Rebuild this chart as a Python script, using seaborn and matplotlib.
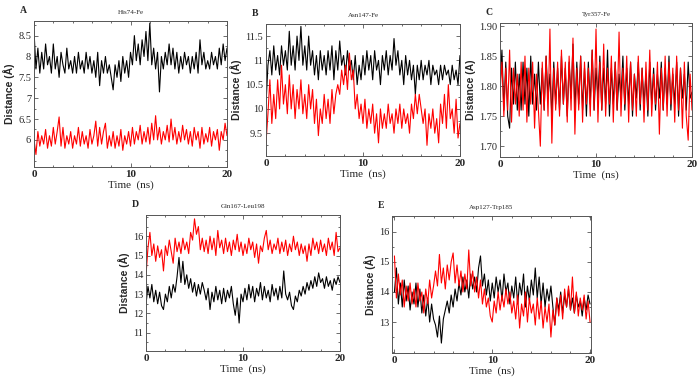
import matplotlib
matplotlib.use("Agg")
import matplotlib.pyplot as plt
import seaborn as sns
import numpy as np
from matplotlib.ticker import MultipleLocator

# time axis, ns (sampled every 0.2 ns)
time_ns = np.linspace(0, 20, 101)

# A: His74-Fe
a_black = [8.6, 7.7, 8.2, 7.6, 8.1, 7.7, 8.3, 7.8, 8.0, 7.6, 8.3,
           7.7, 8.0, 7.5, 8.1, 7.8, 7.6, 8.2, 7.7, 7.9, 7.6,
           8.0, 7.6, 8.1, 7.7, 7.9, 7.6, 8.1, 7.7, 8.0, 7.6,
           7.9, 7.5, 8.1, 7.3, 7.9, 7.6, 8.0, 7.6, 7.8, 7.5,
           7.2, 7.8, 7.5, 7.9, 7.4, 8.0, 7.6, 7.9, 7.5, 8.1,
           7.8, 8.5, 7.9, 8.3, 7.8, 8.4, 8.0, 8.6, 7.9, 8.8,
           7.8, 8.2, 7.7, 8.1, 7.15, 8.0, 7.7, 8.1, 7.8, 8.3,
           7.8, 8.2, 7.7, 8.1, 7.6, 8.0, 7.7, 8.1, 7.8, 8.0,
           7.6, 8.0, 7.7, 8.1, 7.6, 8.4, 7.8, 8.1, 7.7, 7.9,
           7.7, 8.1, 7.8, 8.0, 7.7, 8.2, 7.8, 8.3, 7.9, 8.2]
a_red = [6.0, 5.65, 6.2, 5.85, 6.1, 5.9, 6.25, 5.8, 6.1, 5.85, 6.3,
         5.9, 6.2, 6.55, 5.85, 6.3, 5.8, 6.1, 5.9, 6.2, 5.8,
         6.1, 5.9, 6.3, 5.85, 6.2, 5.9, 6.1, 5.8, 6.25, 5.9,
         6.1, 6.45, 5.85, 6.3, 5.9, 6.2, 6.4, 5.8, 6.1, 5.85,
         6.2, 5.8, 6.1, 5.85, 6.25, 5.75, 6.1, 5.9, 6.2, 5.85,
         6.3, 5.9, 6.2, 6.0, 6.35, 5.9, 6.2, 5.95, 6.3, 5.9,
         6.4, 6.0, 6.58, 6.0, 6.3, 5.9, 6.2, 6.0, 6.35, 5.95,
         6.5, 6.0, 6.3, 5.9, 6.2, 5.95, 6.35, 6.0, 6.25, 5.9,
         6.2, 5.85, 6.3, 6.0, 6.2, 5.8, 6.3, 5.9, 6.15, 5.95,
         6.3, 5.85, 6.2, 6.0, 6.25, 5.75, 6.2, 6.0, 6.4, 6.1]

# B: Asn147-Fe
b_black = [10.1, 10.9, 11.2, 10.7, 11.3, 10.8, 11.1, 10.7, 11.3, 10.9, 11.2,
           10.8, 11.6, 10.9, 11.3, 10.8, 11.5, 11.0, 11.7, 10.9, 11.3,
           10.8, 11.5, 10.9, 11.2, 10.7, 11.1, 10.6, 11.2, 10.8, 11.1,
           10.7, 11.2, 10.8, 11.3, 10.6, 11.2, 10.8, 11.4, 10.9, 11.1,
           10.7, 11.2, 10.8, 11.0, 10.6, 11.1, 10.5, 10.9, 10.6, 11.1,
           10.7, 11.2, 10.8, 11.1, 10.6, 11.2, 10.8, 11.0, 10.5, 11.1,
           10.8, 11.2, 10.7, 11.1, 10.8, 11.45, 10.9, 11.2, 10.7, 11.0,
           10.5, 11.1, 10.7, 11.0, 10.6, 10.9, 10.3, 10.9, 10.6, 11.0,
           10.6, 10.9, 10.7, 11.0, 10.5, 10.9, 10.7, 10.8, 10.5, 10.9,
           10.6, 10.9, 10.7, 10.8, 10.5, 10.9, 10.6, 10.8, 10.5, 11.1]
b_red = [9.3, 9.9, 10.6, 9.7, 10.3, 9.8, 10.6, 10.0, 10.9, 10.1, 10.5,
         9.9, 10.7, 10.0, 10.5, 9.8, 10.4, 10.0, 10.6, 9.9, 10.3,
         9.8, 10.5, 10.0, 10.4, 9.7, 10.2, 9.45, 10.0, 9.7, 10.3,
         9.8, 10.2, 9.7, 10.4, 9.9, 10.3, 10.5, 10.3, 10.8, 10.5,
         10.9, 10.4, 11.15, 10.6, 10.8, 10.0, 10.3, 9.8, 10.1, 9.7,
         10.2, 9.6, 10.0, 9.7, 10.1, 9.5, 9.9, 9.3, 10.0, 9.6,
         9.9, 9.6, 10.1, 9.7, 9.9, 9.5, 10.0, 9.7, 10.1, 9.6,
         10.0, 9.7, 9.9, 9.5, 10.1, 9.8, 10.3, 9.9, 10.3, 10.0,
         9.7, 10.0, 9.25, 9.9, 9.6, 10.0, 9.5, 9.8, 9.3, 10.1,
         9.7, 10.3, 9.6, 10.5, 9.8, 10.0, 9.5, 10.2, 9.4, 9.7]

# C: Tyr357-Fe
c_black = [1.80, 1.86, 1.76, 1.84, 1.75, 1.73, 1.83, 1.77, 1.84, 1.76, 1.82,
           1.76, 1.84, 1.77, 1.83, 1.75, 1.85, 1.77, 1.82, 1.76, 1.84,
           1.77, 1.83, 1.76, 1.85, 1.78, 1.82, 1.75, 1.84, 1.77, 1.83,
           1.76, 1.85, 1.77, 1.83, 1.75, 1.84, 1.78, 1.87, 1.76, 1.84,
           1.77, 1.85, 1.76, 1.83, 1.75, 1.84, 1.77, 1.86, 1.76, 1.83,
           1.78, 1.85, 1.76, 1.83, 1.77, 1.86, 1.75, 1.83, 1.77, 1.84,
           1.76, 1.82, 1.78, 1.85, 1.76, 1.83, 1.77, 1.84, 1.75, 1.82,
           1.78, 1.84, 1.76, 1.83, 1.77, 1.82, 1.75, 1.84, 1.77, 1.83,
           1.76, 1.82, 1.78, 1.84, 1.76, 1.83, 1.77, 1.85, 1.76, 1.82,
           1.77, 1.84, 1.75, 1.83, 1.78, 1.82, 1.76, 1.84, 1.78, 1.79]
c_red = [1.79, 1.84, 1.75, 1.83, 1.76, 1.86, 1.74, 1.83, 1.77, 1.82, 1.75,
         1.84, 1.76, 1.85, 1.74, 1.83, 1.77, 1.84, 1.73, 1.82, 1.76,
         1.70, 1.84, 1.76, 1.85, 1.75, 1.895, 1.705, 1.83, 1.76, 1.84,
         1.75, 1.86, 1.77, 1.84, 1.74, 1.85, 1.76, 1.88, 1.72, 1.83,
         1.76, 1.85, 1.74, 1.84, 1.77, 1.83, 1.75, 1.86, 1.76, 1.895,
         1.74, 1.84, 1.76, 1.87, 1.75, 1.83, 1.77, 1.85, 1.74, 1.84,
         1.76, 1.89, 1.75, 1.83, 1.77, 1.85, 1.74, 1.84, 1.76, 1.82,
         1.75, 1.85, 1.77, 1.83, 1.74, 1.84, 1.76, 1.86, 1.75, 1.82,
         1.77, 1.84, 1.72, 1.83, 1.76, 1.85, 1.75, 1.84, 1.77, 1.83,
         1.74, 1.85, 1.76, 1.83, 1.73, 1.84, 1.75, 1.71, 1.82, 1.76]

# D: Gln167-Leu198
d_black = [12.5, 13.4, 12.8, 13.5, 12.6, 13.2, 12.5, 13.1, 12.4, 12.2, 13.0,
           12.6, 13.4, 12.8, 13.5, 13.1, 13.9, 14.9, 13.6, 14.7, 13.5,
           14.0, 13.3, 13.8, 13.1, 13.6, 12.9, 13.5, 13.0, 13.6, 13.2,
           12.7, 13.3, 12.2, 13.1, 12.6, 13.4, 12.7, 13.2, 12.5, 13.3,
           12.6, 13.2, 12.8, 13.4, 12.5, 11.9, 12.8, 11.5, 13.0, 12.6,
           13.3, 12.7, 13.5, 12.8, 13.4, 12.6, 13.3, 12.9, 13.6, 12.7,
           13.4, 12.8, 13.2, 12.6, 13.5, 12.9, 13.3, 12.7, 13.4, 12.8,
           14.2, 13.0, 12.7, 13.1, 12.4, 12.2, 12.9, 12.6, 13.2, 12.9,
           13.4, 13.0, 13.6, 13.2, 13.7, 13.3, 13.9, 13.4, 14.1, 13.6,
           13.8, 13.3, 13.9, 13.4, 13.7, 13.2, 13.8, 13.5, 13.9, 13.6]
d_red = [14.0, 15.4, 16.2, 15.0, 15.6, 14.7, 15.5, 14.9, 15.3, 14.2, 15.5,
         15.0, 15.8, 15.2, 14.6, 15.9, 15.2, 15.7, 15.1, 15.9, 15.3,
         15.7, 15.1, 16.2, 15.8, 16.9, 16.1, 16.5, 15.3, 15.9, 15.2,
         15.8, 15.1, 16.0, 15.3, 15.9, 15.0, 16.3, 15.4, 15.8, 15.1,
         15.9, 15.2, 15.7, 15.0, 15.8, 15.3, 16.1, 15.2, 15.7, 15.0,
         15.6, 15.1, 15.9, 15.3, 15.7, 14.9, 15.6, 14.6, 15.5, 15.2,
         15.9, 16.3, 15.3, 15.8, 15.1, 15.6, 15.3, 15.9, 15.1, 15.7,
         15.2, 15.8, 15.0, 15.6, 15.2, 16.0, 15.3, 15.7, 15.0, 15.6,
         15.1, 15.5, 14.7, 15.6, 15.0, 15.9, 15.3, 15.7, 15.1, 15.8,
         15.2, 15.6, 15.0, 15.9, 15.3, 15.7, 15.0, 16.2, 15.2, 15.4]

# E: Asp127-Trp185
e_black = [14.0, 14.8, 13.6, 14.3, 13.5, 14.4, 13.7, 14.2, 13.4, 14.0, 13.6,
           14.3, 13.5, 14.1, 13.3, 13.9, 13.2, 13.8, 13.0, 13.6, 13.1,
           12.9, 12.5, 13.2, 12.3, 13.1, 13.4, 13.7, 13.3, 13.9, 13.5,
           14.1, 13.7, 14.3, 13.9, 14.5, 14.0, 14.4, 13.8, 14.6, 14.1,
           14.5, 14.0, 14.8, 15.2, 14.2, 14.6, 13.9, 14.4, 13.7, 14.3,
           13.8, 14.5, 14.0, 14.4, 13.7, 14.6, 14.0, 14.3, 13.6, 14.2,
           13.8, 14.5, 13.6, 14.3, 13.9, 14.6, 13.5, 14.2, 13.7, 14.4,
           13.9, 14.8, 13.8, 14.5, 13.6, 14.3, 13.5, 14.1, 13.7, 14.2,
           13.5, 12.9, 13.8, 13.4, 14.0, 13.3, 13.9, 13.5, 14.1, 13.4,
           13.8, 13.3, 13.9, 13.5, 13.7, 13.2, 13.8, 13.4, 13.9, 13.6]
e_red = [15.2, 13.8, 14.6, 13.9, 14.4, 13.5, 14.2, 13.7, 14.3, 13.6, 14.1,
         13.5, 14.3, 13.7, 14.0, 13.3, 14.1, 13.6, 14.4, 13.8, 14.2,
         14.7, 14.2, 15.25, 14.3, 14.8, 14.1, 14.9, 14.4, 15.0, 15.3,
         14.3, 14.9, 14.2, 14.7, 14.0, 14.6, 14.1, 15.4, 14.2, 14.7,
         14.0, 14.5, 13.8, 14.4, 13.6, 14.1, 13.5, 13.8, 13.2, 13.0,
         13.7, 13.3, 14.0, 13.4, 13.9, 13.5, 14.1, 13.6, 14.0, 13.3,
         13.7, 13.1, 13.9, 12.8, 13.6, 13.2, 14.0, 13.0, 13.8, 13.3,
         13.6, 12.9, 13.8, 13.1, 13.7, 12.8, 13.5, 13.0, 13.6, 12.5,
         13.4, 12.9, 13.8, 13.2, 13.9, 13.1, 14.1, 13.5, 14.2, 13.4,
         14.5, 13.3, 14.0, 13.2, 13.8, 13.4, 13.9, 13.1, 13.7, 13.0]

titles = ["His74-Fe", "Asn147-Fe", "Tyr357-Fe", "Gln167-Leu198", "Asp127-Trp185"]
letters = ["A", "B", "C", "D", "E"]
x_ticks = [0, 10, 20]
y_ticks = [[6, 6.5, 7, 7.5, 8, 8.5],
           [9.5, 10, 10.5, 11, 11.5],
           [1.70, 1.75, 1.80, 1.85, 1.90],
           [11, 12, 13, 14, 15, 16],
           [13, 14, 15, 16]]
y_fmt = ["%g", "%g", "%.2f", "%g", "%g"]
y_minor = [0.25, 0.25, 0.025, 0.5, 0.5]
y_lims = [(5.35, 8.85), (9.03, 11.75), (1.682, 1.905), (10.05, 17.1), (11.97, 16.53)]
x_lims = [(0, 20), (0, 20), (0, 20), (0, 20), (-0.25, 20.1)]
ylabels = ["Distance (Å)", "Distance (Å)", "Distance (A)", "Distance (Å)", "Distance (Å)"]

series = [(a_black, a_red), (b_black, b_red), (c_black, c_red),
          (d_black, d_red), (e_black, e_red)]

# axes boxes in figure fractions [left, bottom, width, height]
boxes = [[0.0486, 0.5605, 0.2757, 0.3842],
         [0.3800, 0.5895, 0.2771, 0.3474],
         [0.7143, 0.5868, 0.2743, 0.3526],
         [0.2086, 0.0763, 0.2771, 0.3579],
         [0.5600, 0.0711, 0.2843, 0.3605]]

sns.set_style("ticks")
serif = ["Liberation Serif", "DejaVu Serif"]

fig = plt.figure(figsize=(7, 3.8), dpi=100)
for i, box in enumerate(boxes):
    ax = fig.add_axes(box)
    blk, red = series[i]
    sns.lineplot(x=time_ns, y=blk, color="black", lw=0.8, ax=ax)
    sns.lineplot(x=time_ns, y=red, color="#ff0000", lw=0.8, ax=ax)
    ax.set_xlim(*x_lims[i])
    ax.set_ylim(*y_lims[i])
    ax.set_xticks(x_ticks)
    ax.set_xticklabels([str(t) for t in x_ticks], family=serif, fontsize=8, fontweight="bold")
    ax.set_yticks(y_ticks[i])
    ax.set_yticklabels([y_fmt[i] % v for v in y_ticks[i]], family=serif, fontsize=7.5)
    ax.xaxis.set_minor_locator(MultipleLocator(2))
    ax.yaxis.set_minor_locator(MultipleLocator(y_minor[i]))
    ax.tick_params(which="both", direction="in", top=True, right=True, width=0.6, color="#555555")
    ax.tick_params(which="major", length=3, pad=2)
    ax.tick_params(which="minor", length=1.5)
    for s in ax.spines.values():
        s.set_linewidth(0.7)
        s.set_color("#555555")
    ax.set_xlabel("Time  (ns)", family=serif, fontsize=8, labelpad=1)
    ax.set_ylabel(ylabels[i], family="Liberation Sans", fontsize=7.5, fontweight="bold", labelpad=2)
    ax.set_title(titles[i], family=serif, fontsize=5, pad=5)
    ax.annotate(letters[i], xy=(0, 1), xycoords="axes fraction", xytext=(-8, 7.5),
                textcoords="offset points", family=serif, fontsize=7,
                fontweight="bold", ha="center", va="center")

fig.savefig("out.png", dpi=100)
